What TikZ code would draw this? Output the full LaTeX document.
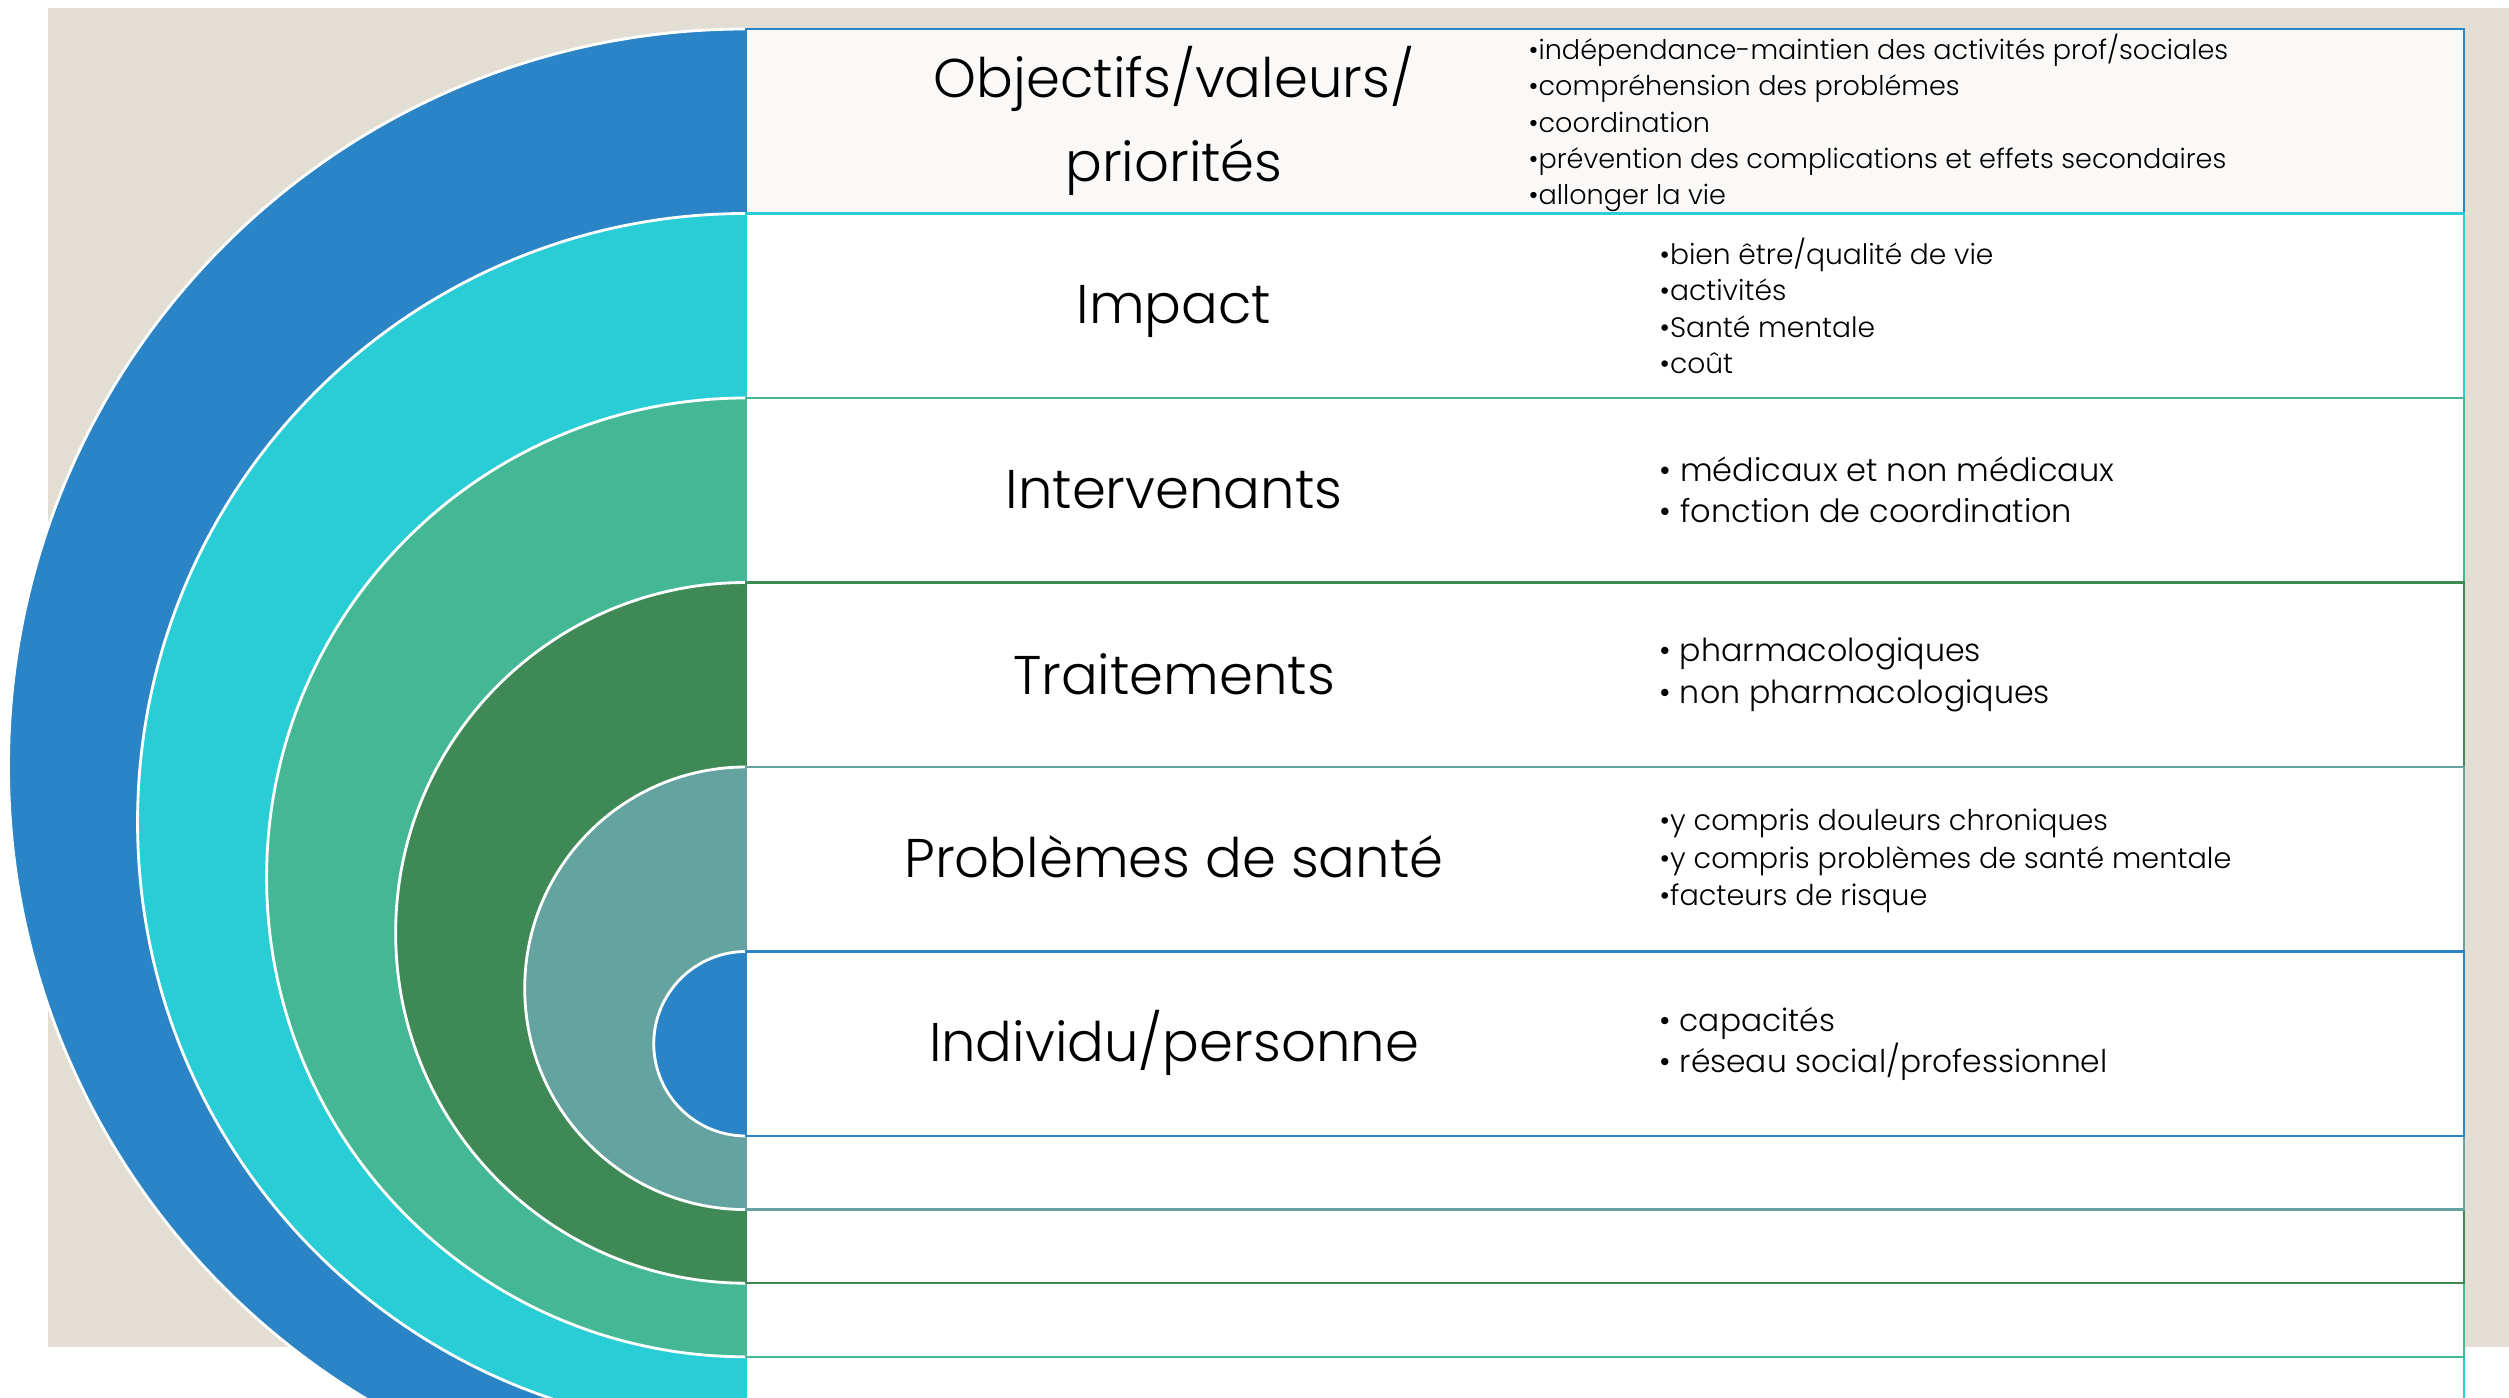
\documentclass[tikz,border=0pt]{standalone}
\usepackage{fontspec}
\setmainfont{Poppins Light}
\definecolor{ringblue}{HTML}{2A84C6}
\definecolor{ringcyan}{HTML}{29CDD6}
\definecolor{ringmint}{HTML}{44B894}
\definecolor{ringgreen}{HTML}{3F8956}
\definecolor{ringteal}{HTML}{64A39F}
\definecolor{paper}{HTML}{E3DED3}
\definecolor{toprow}{HTML}{FAF9F7}
% one ring: half disc on the left, framed band on the right
% #1 colour, #2 top, #3 bottom, #4 band fill
\newcommand\halfring[4]{%
  \pgfmathsetmacro\ringr{(#3-#2)/2}%
  \fill[#1] (746,#2) arc[start angle=270,end angle=90,radius=\ringr] -- cycle;
  \draw[white,line width=0.8pt] (746,#2) arc[start angle=270,end angle=90,radius=\ringr];
  \draw[#1,fill=#4,line width=0.7pt] (746,#2) rectangle (2464,#3);
}
\begin{document}
\begin{tikzpicture}[x=0.01cm,y=-0.01cm,
  title/.style={font=\fontsize{15.5}{24}\selectfont,align=center,text=black,inner sep=0pt},
  items/.style={align=left,anchor=west,text=black,inner sep=0pt},
  topitems/.style={items,font=\fontsize{7.7}{10.3}\selectfont},
  smallitems/.style={items,font=\fontsize{8}{10.3}\selectfont},
  miditems/.style={items,font=\fontsize{8.15}{10.7}\selectfont},
  bigitems/.style={items,font=\fontsize{8.9}{11.8}\selectfont}]
\useasboundingbox (0,0) rectangle (2509,1398);
\clip (0,0) rectangle (2509,1398);
\fill[paper] (48,8) rectangle (2509,1347);
% rings from the outside in
\halfring{ringblue}{29}{1504}{toprow}
\halfring{ringcyan}{213.5}{1430.4}{white}
\halfring{ringmint}{398}{1356.8}{white}
\halfring{ringgreen}{582.5}{1283.2}{white}
\halfring{ringteal}{767}{1209.6}{white}
\halfring{ringblue}{951.5}{1136}{white}
% row titles
\node[title] (t1) at (1174,121) {Objectifs/valeurs/\\priorités};
\node[title] (t2) at (1174,311) {Impact};
\node[title] (t3) at (1174,490) {Intervenants};
\node[title] (t4) at (1174,674) {Traitements};
\node[title] (t5) at (1174,857) {Problèmes de santé};
\node[title] (t6) at (1174,1043) {Individu/personne};
% row details
\node[topitems] (d1) at (1528,123) {•indépendance-maintien des activités prof/sociales\\•compréhension des problémes\\•coordination\\•prévention des complications et effets secondaires\\•allonger la vie};
\node[smallitems] (d2) at (1659,306) {•bien être/qualité de vie\\•activités\\•Santé mentale\\•coût};
\node[bigitems,font=\fontsize{9.1}{11.8}\selectfont] (d3) at (1659,490) {• médicaux et non médicaux\\• fonction de coordination};
\node[bigitems,font=\fontsize{9}{11.8}\selectfont] (d4) at (1659,675) {• pharmacologiques\\• non pharmacologiques};
\node[miditems] (d5) at (1659,861) {•y compris douleurs chroniques\\•y compris problèmes de santé mentale\\•facteurs de risque};
\node[bigitems] (d6) at (1659,1044) {• capacités\\• réseau social/professionnel};
\end{tikzpicture}
\end{document}
